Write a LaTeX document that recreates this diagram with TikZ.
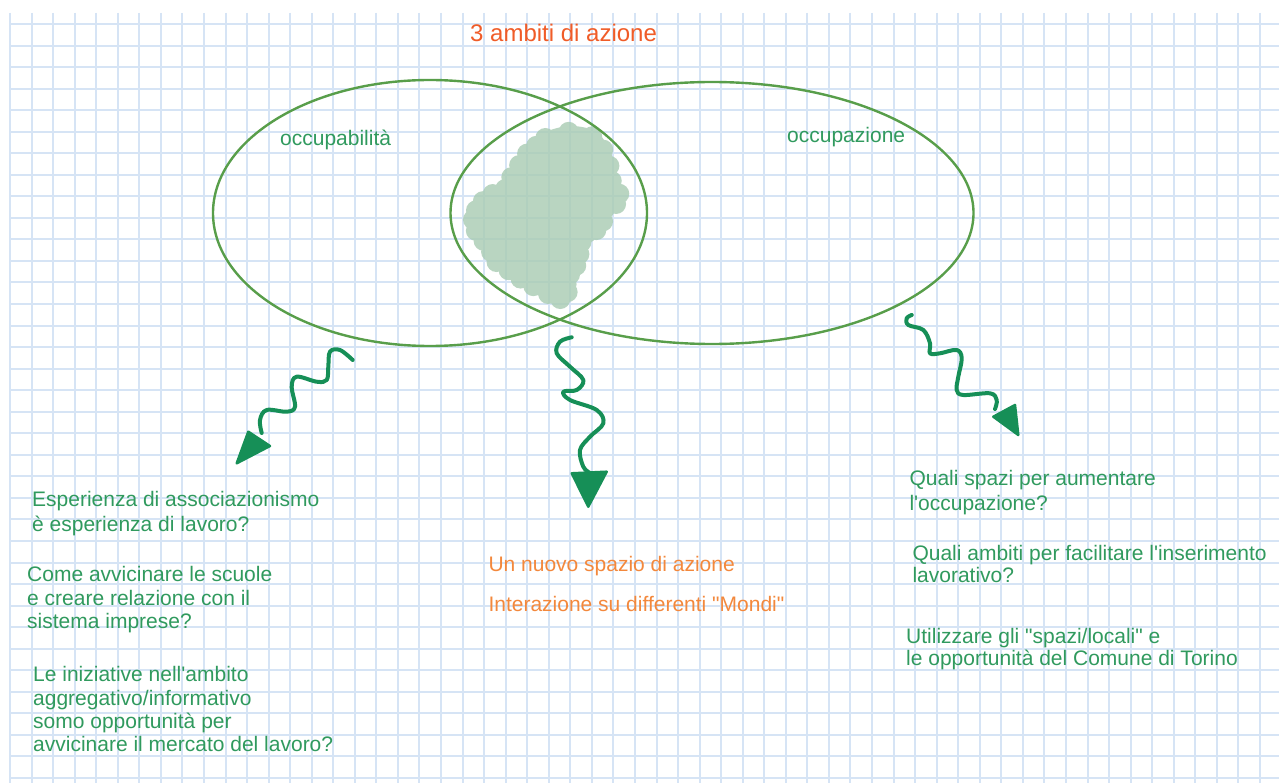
\documentclass[tikz,border=0pt]{standalone}
\usepackage{fontspec}
\setmainfont{Liberation Sans}[Ligatures=TeXOff]
\usetikzlibrary{shapes.geometric,calc}
\definecolor{gridblue}{RGB}{214,228,245}
\definecolor{ringgreen}{RGB}{88,158,74}
\definecolor{textgreen}{RGB}{48,154,94}
\definecolor{arrowgreen}{RGB}{22,143,87}
\definecolor{blobgreen}{RGB}{168,203,178}
\definecolor{noteorange}{RGB}{243,136,60}
\definecolor{titleorange}{RGB}{240,92,40}

\begin{document}
\begin{tikzpicture}[x=1pt,y=-1pt,
  gridline/.style={draw=gridblue, line width=2pt},
  ring/.style={ellipse, draw=ringgreen, line width=2.4pt, inner sep=0pt},
  note/.style={anchor=base west, align=left, inner sep=0pt, text=textgreen},
  orangenote/.style={anchor=base west, inner sep=0pt, text=noteorange, font=\fontsize{21}{24}\selectfont},
  squiggle/.style={draw=arrowgreen, line width=4pt, line cap=round, line join=round},
  head/.style={fill=arrowgreen, draw=arrowgreen, line width=2.5pt, line join=round}]

% page and squared paper
\useasboundingbox[fill=white] (0,0) rectangle (1279,783);
\foreach \k in {0,...,58}
  \draw[gridline] ({10+21.55*\k},13) -- ({10+21.55*\k},783);
\foreach \k in {0,...,35}
  \draw[gridline] (10,{24+21.54*\k}) -- (1279,{24+21.54*\k});

% title
\node[anchor=base west, inner sep=0pt, text=titleorange, font=\fontsize{24}{27}\selectfont]
  (title) at (470,42) {3 ambiti di azione};

% shaded overlap scribble: a body with small round dabs along its rim
\coordinate (blobmid) at (550,215);
\begin{scope}[transparency group, opacity=0.8]
  \fill[blobgreen] plot[smooth cycle, tension=0.6] coordinates {
    (545,132) (570,126) (595,131) (607,145) (614,162) (617,178) (625,192)
    (622,203) (611,208) (609,222) (602,232) (592,236) (586,246) (583,259)
    (579,271) (572,280) (568,290) (569,298) (561,305) (548,300) (532,292)
    (518,284) (505,275) (492,266) (486,255) (478,243) (470,232) (467,220)
    (470,210) (477,200) (487,192) (500,186) (507,173) (516,160) (525,148) (535,140)};
  \foreach \x/\y in {545/132,570/126,595/131,607/145,614/162,617/178,625/192,
                     622/203,611/208,609/222,602/232,592/236,586/246,583/259,
                     579/271,572/280,568/290,569/298,561/305,548/300,532/292,
                     518/284,505/275,492/266,486/255,478/243,470/232,467/220,
                     470/210,477/200,487/192,500/186,507/173,516/160,525/148,535/140}
    \fill[blobgreen] ($(\x,\y)!6pt!(blobmid)$) circle[radius=10];
\end{scope}

% the two overlapping areas
\node[ring, minimum width=434pt, minimum height=266pt] (occupabilita) at (430,213) {};
\node[ring, minimum width=523pt, minimum height=262pt] (occupazione) at (712,213) {};
\node[anchor=base west, inner sep=0pt, text=textgreen, font=\fontsize{21}{24}\selectfont]
  (lab1) at (280,146) {occupabilità};
\node[anchor=base west, inner sep=0pt, text=textgreen, font=\fontsize{21}{24}\selectfont]
  (lab2) at (787,143) {occupazione};

% wavy arrows
\coordinate (ltip) at (236.7,463.3);
\coordinate (mtip) at (588.3,506.7);
\coordinate (rtip) at (1018.3,435);
\draw[squiggle] plot[smooth, tension=0.6] coordinates {
  (352.7,360) (340,350) (330,351.7) (328.3,366.7) (326.7,380) (316.7,381.7)
  (296.7,376.7) (291.7,386.7) (295,406.7) (286.7,411.7) (266.7,410) (260,420) (261.7,433)};
\filldraw[head] (248.3,431.7) -- (270,446) -- (ltip) -- cycle;
\draw[squiggle] plot[smooth, tension=0.6] coordinates {
  (571.7,337.3) (560,341.7) (556.7,353.3) (570,366.7) (583.3,380) (576.7,390)
  (563.3,391.7) (570,400) (596.7,410) (603.3,423.3) (590,436.7) (580,450)
  (583.3,466.7) (590,473)};
\filldraw[head] (571.7,473.3) -- (606.7,471.7) -- (mtip) -- cycle;
\draw[squiggle] plot[smooth, tension=0.6] coordinates {
  (911.7,315) (906.7,318.3) (908.3,325) (923.3,330) (930,343.3) (930,353.3)
  (940,353.3) (956.7,350) (961.7,358.3) (958.3,376.7) (956.7,390) (963.3,395)
  (990,393.3) (996.7,400) (995,409)};
\filldraw[head] (993.3,416.7) -- (1015,405) -- (rtip) -- cycle;

% questions under "occupabilità" (nodes placed at the last line's baseline)
\node[note, font=\fontsize{21}{25}\selectfont] (q1) at (32,531.7)
  {Esperienza di associazionismo\\è esperienza di lavoro?};
\node[note, font=\fontsize{21}{23.3}\selectfont] (q2) at (27,628.3)
  {Come avvicinare le scuole\\e creare relazione con il\\sistema imprese?};
\node[note, font=\fontsize{21}{23.3}\selectfont] (q3) at (33,751.7)
  {Le iniziative nell'ambito\\aggregativo/informativo\\somo opportunità per\\avvicinare il mercato del lavoro?};

% notes under the overlap
\node[orangenote] (m1) at (488.3,571.7) {Un nuovo spazio di azione};
\node[orangenote] (m2) at (488.3,611.7) {Interazione su differenti "Mondi"};

% questions under "occupazione"
\node[note, font=\fontsize{21}{25}\selectfont] (r1) at (909.3,510)
  {Quali spazi per aumentare\\l'occupazione?};
\node[note, font=\fontsize{21}{22.5}\selectfont] (r2) at (912.3,582.5)
  {Quali ambiti per facilitare l'inserimento\\lavorativo?};
\node[note, font=\fontsize{21}{22}\selectfont] (r3) at (906,665.3)
  {Utilizzare gli "spazi/locali" e\\le opportunità del Comune di Torino};
\end{tikzpicture}
\end{document}
